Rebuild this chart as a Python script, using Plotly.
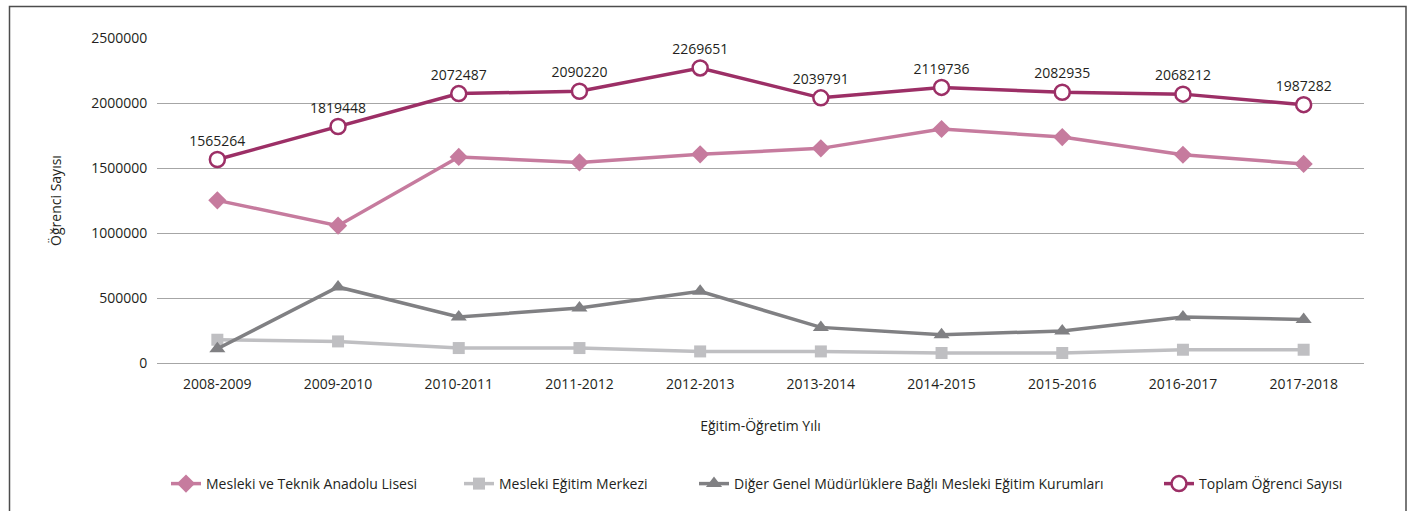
import plotly.graph_objects as go

years = ["2008-2009", "2009-2010", "2010-2011", "2011-2012", "2012-2013",
         "2013-2014", "2014-2015", "2015-2016", "2016-2017", "2017-2018"]
mtal = [1251000, 1056000, 1585000, 1543000, 1605000, 1651000, 1800000, 1738000, 1602000, 1531000]
mem = [179000, 166000, 115000, 115000, 89000, 89000, 77000, 77000, 102000, 102000]
diger = [110000, 585000, 354000, 423000, 551000, 274000, 218000, 246000, 354000, 335000]
toplam = [1565264, 1819448, 2072487, 2090220, 2269651, 2039791, 2119736, 2082935, 2068212, 1987282]

names = ["Mesleki ve Teknik Anadolu Lisesi", "Mesleki Eğitim Merkezi",
         "Diğer Genel Müdürlüklere Bağlı Mesleki Eğitim Kurumları", "Toplam Öğrenci Sayısı"]

FONT = "Open Sans"
TXT = "#231f20"
C_MTAL = "#c67b9e"
C_MEM = "#bfbfc2"
C_DIG = "#808083"
C_TOP = "#9c2f66"

fig = go.Figure()
fig.add_trace(go.Scatter(x=years, y=mtal, name=names[0], mode="lines+markers",
                         line=dict(color=C_MTAL, width=3.5),
                         marker=dict(symbol="diamond", size=14, color=C_MTAL),
                         legend="legend"))
fig.add_trace(go.Scatter(x=years, y=mem, name=names[1], mode="lines+markers",
                         line=dict(color=C_MEM, width=3.5),
                         marker=dict(symbol="square", size=12, color=C_MEM),
                         legend="legend2"))
fig.add_trace(go.Scatter(x=years, y=diger, name=names[2], mode="lines+markers",
                         line=dict(color=C_DIG, width=3.5),
                         marker=dict(symbol="triangle-up", size=14, color=C_DIG),
                         legend="legend3"))
fig.add_trace(go.Scatter(x=years, y=toplam, name=names[3], mode="lines+markers+text",
                         text=[str(v) for v in toplam], textposition="top center",
                         textfont=dict(family=FONT, size=14, color=TXT),
                         line=dict(color=C_TOP, width=3.5),
                         marker=dict(symbol="circle", size=15, color="white",
                                     line=dict(color=C_TOP, width=2.5)),
                         legend="legend4"))

L, R, T, B = 157, 46, 38, 147
W, H = 1410, 511
pw, ph = W - L - R, H - T - B

def px(x):
    return (x - L) / pw

def py(y):
    return (H - B - y) / ph

leg_common = dict(orientation="h", yanchor="middle", xanchor="left",
                  font=dict(family=FONT, size=14, color=TXT), bgcolor="rgba(0,0,0,0)")

fig.update_layout(
    width=W, height=H,
    margin=dict(l=L, r=R, t=T, b=B),
    paper_bgcolor="white", plot_bgcolor="white",
    font=dict(family=FONT, size=14, color=TXT),
    showlegend=True,
    legend=dict(x=px(166), y=py(484), **leg_common),
    legend2=dict(x=px(459), y=py(484), **leg_common),
    legend3=dict(x=px(694), y=py(484), **leg_common),
    legend4=dict(x=px(1159), y=py(484), **leg_common),
    xaxis=dict(range=[-0.5, 9.5], showgrid=False, zeroline=False, showline=False,
               ticks="outside", ticklen=8, tickcolor="rgba(0,0,0,0)",
               tickfont=dict(family=FONT, size=14, color=TXT),
               title=dict(text="Eğitim-Öğretim Yılı", standoff=29,
                          font=dict(family=FONT, size=14, color=TXT))),
    yaxis=dict(range=[0, 2500000], dtick=500000, tickformat="d",
               showgrid=True, gridcolor="#a6a6a6", gridwidth=1,
               zeroline=True, zerolinecolor="#a6a6a6", zerolinewidth=1, showline=False,
               ticks="outside", ticklen=6, tickcolor="rgba(0,0,0,0)",
               tickfont=dict(family=FONT, size=14, color=TXT),
               title=dict(text="Öğrenci Sayısı", standoff=26,
                          font=dict(family=FONT, size=14, color=TXT))),
)

fig.add_shape(type="rect", xref="paper", yref="paper",
              x0=px(9.5), x1=px(1406), y0=py(530), y1=py(6.5),
              line=dict(color="#4d4d4d", width=1.5), fillcolor="rgba(0,0,0,0)", layer="below")

fig.write_html("out.html", config={"displayModeBar": False},
               post_script="document.body.style.margin='0px';document.body.style.overflow='hidden';")
